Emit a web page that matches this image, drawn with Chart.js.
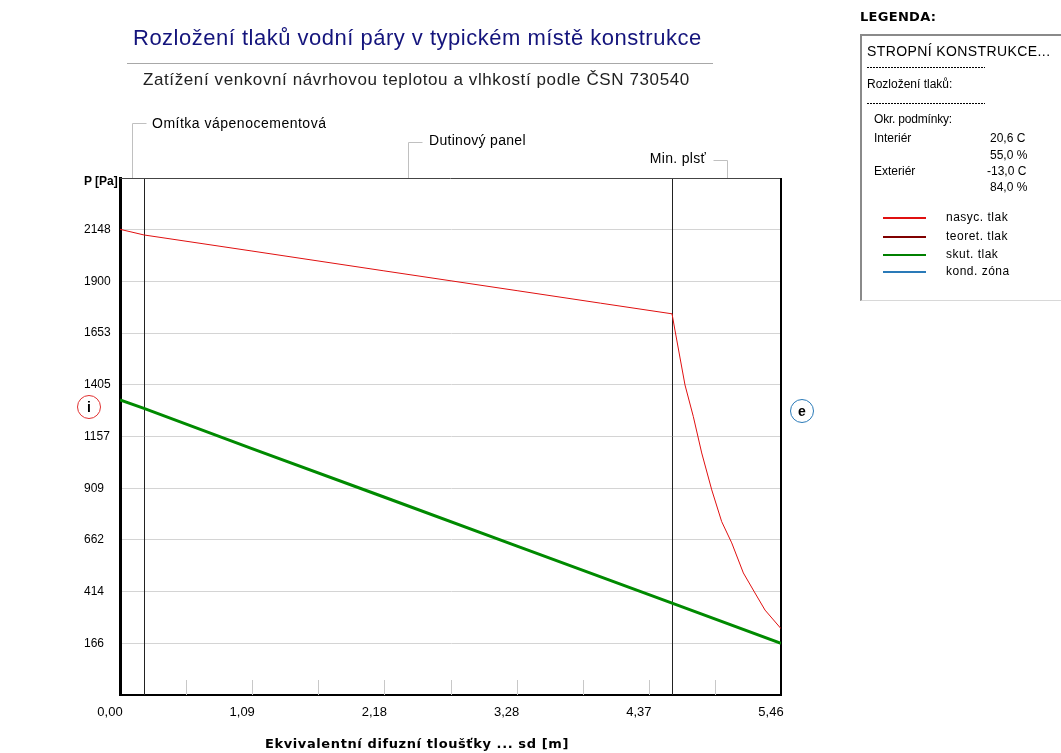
<!DOCTYPE html>
<html>
<head>
<meta charset="utf-8">
<script src="https://cdn.jsdelivr.net/npm/chart.js@4/dist/chart.umd.min.js"></script>
<style>
  body { margin: 0; background: #fff; font-family: "Liberation Sans", Arial, sans-serif; }
  #wrap { position: relative; width: 1061px; height: 753px; overflow: hidden; }
  #c { position: absolute; left: 0; top: 0; }
  .t { position: absolute; white-space: nowrap; color: #000; }
  .b { font-family: "DejaVu Sans", sans-serif; font-weight: bold; }
  .dash { position: absolute; height: 1px;
          background: repeating-linear-gradient(90deg, #000 0 2px, transparent 2px 3px); }
  .leg { position: absolute; height: 2px; width: 43px; }
  .circ { position: absolute; width: 22px; height: 22px; border-radius: 50%;
          text-align: center; line-height: 22px; font-size: 14px; }
</style>
</head>
<body>
<div id="wrap">
  <canvas id="c" width="1061" height="753"></canvas>

  <div class="t" style="left:133px;top:25px;font-size:22px;letter-spacing:0.5px;color:#14147c;">Rozložení tlaků vodní páry v typickém místě konstrukce</div>
  <div style="position:absolute;left:127px;top:63px;width:586px;height:1px;background:#a8a8a8;"></div>
  <div class="t" style="left:143px;top:70px;font-size:17px;letter-spacing:0.6px;color:#222;">Zatížení venkovní návrhovou teplotou a vlhkostí podle ČSN 730540</div>

  <div class="t" style="left:152px;top:115px;font-size:14px;letter-spacing:0.5px;">Omítka vápenocementová</div>
  <div class="t" style="left:429px;top:132px;font-size:14px;letter-spacing:0.3px;">Dutinový panel</div>
  <div class="t" style="right:355px;top:150px;font-size:14px;letter-spacing:0.3px;">Min. plsť</div>

  <div class="t" style="left:84px;top:174px;font-size:12px;font-weight:bold;">P [Pa]</div>
  <div class="circ" style="left:77px;top:395px;border:1.5px solid #e03030;font-weight:bold;">i</div>
  <div class="circ" style="left:790px;top:399px;border:1.5px solid #2a7ab8;font-weight:bold;">e</div>

  <div class="t b" style="left:265px;top:736px;font-size:13px;letter-spacing:0.6px;">Ekvivalentní difuzní tloušťky ... sd [m]</div>

  <div class="t b" style="left:860px;top:9px;font-size:13px;letter-spacing:0.3px;">LEGENDA:</div>
  <div style="position:absolute;left:860px;top:34px;width:220px;height:264px;border-left:2px solid #8a8a8a;border-top:2px solid #8a8a8a;border-bottom:1px solid #d8d8d8;"></div>
  <div class="t" style="left:867px;top:43px;font-size:14px;letter-spacing:0.4px;">STROPNÍ KONSTRUKCE...</div>
  <div class="dash" style="left:867px;top:67px;width:118px;"></div>
  <div class="t" style="left:867px;top:77px;font-size:12px;">Rozložení tlaků:</div>
  <div class="dash" style="left:867px;top:103px;width:118px;"></div>
  <div class="t" style="left:874px;top:112px;font-size:12px;letter-spacing:-0.2px;">Okr. podmínky:</div>
  <div class="t" style="left:874px;top:131px;font-size:12px;">Interiér</div>
  <div class="t" style="left:990px;top:131px;font-size:12px;">20,6 C</div>
  <div class="t" style="left:990px;top:148px;font-size:12px;">55,0 %</div>
  <div class="t" style="left:874px;top:164px;font-size:12px;">Exteriér</div>
  <div class="t" style="left:987px;top:164px;font-size:12px;">-13,0 C</div>
  <div class="t" style="left:990px;top:180px;font-size:12px;">84,0 %</div>
  <div class="leg" style="left:883px;top:217px;background:#e01010;"></div>
  <div class="t" style="left:946px;top:210px;font-size:12px;letter-spacing:0.5px;">nasyc. tlak</div>
  <div class="leg" style="left:883px;top:236px;background:#800000;"></div>
  <div class="t" style="left:946px;top:229px;font-size:12px;letter-spacing:0.5px;">teoret. tlak</div>
  <div class="leg" style="left:883px;top:254px;background:#008000;"></div>
  <div class="t" style="left:946px;top:247px;font-size:12px;letter-spacing:0.5px;">skut. tlak</div>
  <div class="leg" style="left:883px;top:271px;background:#2a7ab8;"></div>
  <div class="t" style="left:946px;top:264px;font-size:12px;letter-spacing:0.5px;">kond. zóna</div>
</div>

<script>
// nasycený tlak (sd [m], P [Pa])
const satSd = [0, 0.198, 1.09, 2.18, 3.28, 3.97, 4.56, 4.584, 4.667, 4.736, 4.805, 4.888, 4.970, 5.053, 5.149, 5.245, 5.328, 5.46];
const satP  = [2150, 2123, 2046, 1951, 1856, 1796, 1745, 1667, 1404, 1252, 1078, 901, 749, 647, 503, 407, 325, 236];

// skutečný tlak
const actSd = [0, 0.198, 1.09, 2.18, 3.28, 4.56, 5.46];
const actP  = [1332, 1292, 1099, 867, 632, 358, 166];

// rozhraní vrstev (konec každé vrstvy)
const layerEnds = [0.198, 4.56, 5.46];
const layerNames = ['Omítka vápenocementová', 'Dutinový panel', 'Min. plsť'];

const xTickValues = [0, 1.092, 2.184, 3.276, 4.368, 5.46];
const xTickLabels = ['0,00', '1,09', '2,18', '3,28', '4,37', '5,46'];
const xMinorTicks = [0.546, 1.092, 1.638, 2.184, 2.73, 3.276, 3.822, 4.368, 4.914];

const yTickValues = [165.8, 413.6, 661.4, 909.2, 1157, 1404.8, 1652.6, 1900.4, 2148.2];
const yTickLabels = ['166', '414', '662', '909', '1157', '1405', '1653', '1900', '2148'];

function toPoints(xs, ys) {
  var pts = [];
  for (let i = 0; i < xs.length; i++) {
    pts.push({x: xs[i], y: ys[i]});
  }
  return pts;
}

// vrstvy, okraje a značky na ose x
const extras = {
  id: 'extras',
  beforeDatasetsDraw(chart) {
    const ctx = chart.ctx;
    const a = chart.chartArea;
    const xs = chart.scales.x;

    ctx.save();
    // drobné značky
    ctx.strokeStyle = '#c8c8c8';
    ctx.lineWidth = 1;
    xMinorTicks.forEach(v => {
      const px = Math.round(xs.getPixelForValue(v)) + 0.5;
      ctx.beginPath();
      ctx.moveTo(px, a.bottom);
      ctx.lineTo(px, a.bottom - 15);
      ctx.stroke();
    });

    // rozhraní vrstev
    ctx.strokeStyle = '#222';
    layerEnds.slice(0, -1).forEach(v => {
      const px = Math.round(xs.getPixelForValue(v)) + 0.5;
      ctx.beginPath();
      ctx.moveTo(px, a.top);
      ctx.lineTo(px, a.bottom);
      ctx.stroke();
    });

    // vodítka k popiskům vrstev
    const leadY = [123, 142, 160];
    const leadDir = [1, 1, -1];
    ctx.strokeStyle = '#c0c0c0';
    let start = 0;
    layerEnds.forEach((end, i) => {
      const px = Math.round(xs.getPixelForValue((start + end) / 2)) + 0.5;
      ctx.beginPath();
      ctx.moveTo(px, a.top);
      ctx.lineTo(px, leadY[i] + 0.5);
      ctx.lineTo(px + leadDir[i] * 14, leadY[i] + 0.5);
      ctx.stroke();
      start = end;
    });

    // horní a pravý okraj
    ctx.strokeStyle = '#444';
    ctx.beginPath();
    ctx.moveTo(a.left, a.top + 0.5);
    ctx.lineTo(a.right, a.top + 0.5);
    ctx.stroke();
    ctx.strokeStyle = '#000';
    ctx.lineWidth = 2;
    ctx.beginPath();
    ctx.moveTo(a.right, a.top);
    ctx.lineTo(a.right, a.bottom);
    ctx.stroke();
    ctx.restore();
  }
};

const ctx = document.getElementById('c');
new Chart(ctx, {
  type: 'scatter',
  data: {
    datasets: [{
      label: 'nasyc. tlak',
      data: toPoints(satSd, satP),
      showLine: true,
      borderColor: '#e01010',
      borderWidth: 1,
      pointRadius: 0,
      tension: 0
    }, {
      label: 'skut. tlak',
      data: toPoints(actSd, actP),
      showLine: true,
      borderColor: '#008a00',
      borderWidth: 3,
      pointRadius: 0,
      tension: 0
    }]
  },
  options: {
    responsive: false,
    animation: false,
    devicePixelRatio: 1,
    layout: { padding: { left: 84, top: 178, right: 280, bottom: 28 } },
    plugins: { legend: { display: false }, tooltip: { enabled: false } },
    scales: {
      x: {
        type: 'linear',
        min: 0,
        max: 5.46,
        afterBuildTicks: s => { s.ticks = xTickValues.map(v => ({value: v})); },
        afterFit: s => { s.height = 30; },
        ticks: {
          callback: (v, i) => xTickLabels[i],
          labelOffset: -10,
          padding: 10,
          maxRotation: 0,
          autoSkip: false,
          color: '#000',
          font: { family: 'Liberation Sans', size: 13 }
        },
        grid: { display: false, drawTicks: false },
        border: { display: true, color: '#000', width: 2 }
      },
      y: {
        type: 'linear',
        min: -82,
        max: 2396,
        afterBuildTicks: s => { s.ticks = yTickValues.map(v => ({value: v})); },
        afterFit: s => { s.width = 36; },
        ticks: {
          callback: (v, i) => yTickLabels[i],
          crossAlign: 'far',
          padding: 0,
          autoSkip: false,
          color: '#000',
          font: { family: 'Liberation Sans', size: 12 }
        },
        grid: { color: '#d4d4d4', drawTicks: false },
        border: { display: true, color: '#000', width: 3 }
      }
    }
  },
  plugins: [extras]
});
</script>
</body>
</html>
